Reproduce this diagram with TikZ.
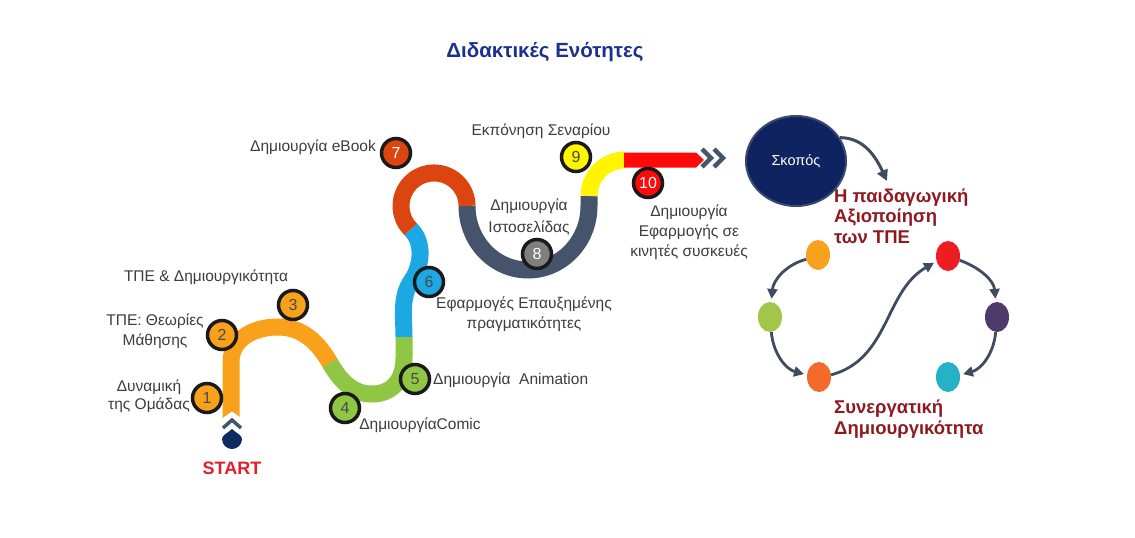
\documentclass[tikz,border=0pt]{standalone}
\usepackage{fontspec}
\setmainfont{Liberation Sans}
\usetikzlibrary{arrows.meta,shapes.geometric}
\definecolor{corange}{HTML}{F9A11B}
\definecolor{cgreen}{HTML}{8FC745}
\definecolor{cblue}{HTML}{1CA8E3}
\definecolor{crust}{HTML}{DD4510}
\definecolor{cslate}{HTML}{46546B}
\definecolor{cyellow}{HTML}{FFF500}
\definecolor{cred}{HTML}{FF0A0A}
\definecolor{cgray}{HTML}{7F7F7F}
\definecolor{cnavy}{HTML}{0E2A5E}
\definecolor{skfill}{HTML}{0F2360}
\definecolor{skborder}{HTML}{3A4A6E}
\definecolor{titleblue}{HTML}{1B3190}
\definecolor{darkred}{HTML}{8E1A20}
\definecolor{startred}{HTML}{E31E2A}
\definecolor{labelgray}{HTML}{3D3D3D}
\definecolor{numgray}{HTML}{4A4A4A}
\definecolor{markline}{HTML}{1A1A1A}
\definecolor{arrowslate}{HTML}{404B5F}
\definecolor{dA}{HTML}{F6A21D}
\definecolor{dB}{HTML}{A2C64A}
\definecolor{dC}{HTML}{F26A2C}
\definecolor{dD}{HTML}{EE1D24}
\definecolor{dE}{HTML}{4E3A6B}
\definecolor{dF}{HTML}{25B2C6}
\begin{document}
\begin{tikzpicture}[x=1pt,y=1pt,
  road/.style={line width=17pt, line cap=butt},
  marker/.style={circle, draw=markline, line width=3.5pt, minimum size=29pt, inner sep=0pt, text=numgray, font=\fontsize{16}{16}\selectfont},
  lbl/.style={text=labelgray, font=\fontsize{15.5}{20}\selectfont, align=center, inner sep=0pt},
  goaltxt/.style={text=darkred, font=\bfseries\fontsize{18.5}{20.5}\selectfont, align=left, inner sep=0pt},
  dot/.style={ellipse, minimum width=24pt, minimum height=30pt, inner sep=0pt},
  cyc/.style={draw=arrowslate, line width=2.8pt, -{Triangle[length=10pt,width=10pt]}, shorten >=3pt}
]
\useasboundingbox (0,0) rectangle (1135,-538);
\fill[white] (0,0) rectangle (1135,-538);

% title
\node[text=titleblue, font=\bfseries\fontsize{20.5}{22}\selectfont] (title) at (545,-52) {Διδακτικές Ενότητες};

% road
\draw[road, corange] (231,-419) -- (231,-362) .. controls (231,-340) and (252,-327) .. (278,-327) .. controls (302,-327) and (318,-342) .. (330,-363);
\draw[road, cgreen] (330,-363) .. controls (342,-384) and (355,-394) .. (372,-394) .. controls (392,-394) and (404,-380) .. (404,-358) -- (404,-337);
\draw[road, cblue] (404,-337) .. controls (404,-317) and (400,-297) .. (412,-280) .. controls (421,-267) and (425,-243) .. (410.7,-229.3);
\draw[road, crust] (410.7,-229.3) arc[start angle=225, end angle=0, radius=33];
\draw[road, cslate] (467,-206) arc[start angle=180, end angle=360, x radius=61, y radius=64] -- (589,-196);
\draw[road, cyellow] (589,-196) arc[start angle=180, end angle=90, radius=36];
\fill[cred] (624,-152.5) -- (696,-152.5) -- (704,-160) -- (696,-167.5) -- (624,-167.5) -- cycle;
\draw[cslate, line width=4.5pt] (702,-149) -- (711,-158) -- (702,-167);
\draw[cslate, line width=4.5pt] (714,-149) -- (723,-158) -- (714,-167);

% start marker
\fill[white] (220,-420) -- (232,-411.5) -- (244,-420) -- cycle;
\draw[cslate, line width=3.5pt] (223,-428) -- (232,-420) -- (241,-428);
\fill[cnavy] (232,-429) .. controls (236,-433) and (242,-435) .. (242,-439) arc[start angle=0, end angle=-180, radius=10] .. controls (222,-435) and (228,-433) .. (232,-429) -- cycle;
\node[text=startred, font=\bfseries\fontsize{18}{18}\selectfont] (start) at (232,-468) {START};

% markers
\node[marker, fill=corange] (m1) at (207,-398) {1};
\node[marker, fill=corange] (m2) at (222,-335) {2};
\node[marker, fill=corange] (m3) at (293,-305) {3};
\node[marker, fill=cgreen] (m4) at (345,-408) {4};
\node[marker, fill=cgreen] (m5) at (415,-379) {5};
\node[marker, fill=cblue] (m6) at (429,-282) {6};
\node[marker, fill=crust, text=white] (m7) at (396,-153) {7};
\node[marker, fill=cgray, text=white] (m8) at (537,-254) {8};
\node[marker, fill=cyellow] (m9) at (576,-157) {9};
\node[marker, fill=cred, text=white] (m10) at (648,-183) {10};

% labels
\node[lbl, font=\fontsize{15.5}{18}\selectfont] (l1) at (149,-396) {Δυναμική\\της Ομάδας};
\node[lbl] (l2) at (155,-331) {ΤΠΕ: Θεωρίες\\Μάθησης};
\node[lbl] (l3) at (206,-277) {ΤΠΕ \& Δημιουργικότητα};
\node[lbl] (l4) at (420,-425) {ΔημιουργίαComic};
\node[lbl, anchor=west] (l5) at (433,-380) {Δημιουργία~ Animation};
\node[lbl] (l6) at (524,-314) {Εφαρμογές Επαυξημένης\\πραγματικότητες};
\node[lbl] (l7) at (313,-147) {Δημιουργία eBook};
\node[lbl, font=\fontsize{15.5}{22}\selectfont] (l8) at (529,-217) {Δημιουργία\\Ιστοσελίδας};
\node[lbl] (l9) at (541,-131) {Εκπόνηση Σεναρίου};
\node[lbl] (l10) at (689,-232) {Δημιουργία\\Εφαρμογής σε\\κινητές συσκευές};

% right side
\node[ellipse, fill=skfill, draw=skborder, line width=2pt, minimum width=100pt, minimum height=90pt, text=white, font=\fontsize{14.5}{16}\selectfont] (skopos) at (796,-161) {Σκοπός};
\node[goaltxt, anchor=west] (goal) at (834,-216) {Η παιδαγωγική\\Αξιοποίηση\\των ΤΠΕ};
\coordinate (skend) at (887,-181);
\draw[arrowslate, line width=3pt, -{Triangle[length=11pt,width=11pt]}] (skopos.28) to[out=0, in=115] (skend);

\node[dot, fill=dA] (d1) at (818,-255) {};
\node[dot, fill=dB] (d2) at (770,-317) {};
\node[dot, fill=dC] (d3) at (819,-377) {};
\node[dot, fill=dD] (d4) at (948,-256) {};
\node[dot, fill=dE] (d5) at (997,-317) {};
\node[dot, fill=dF] (d6) at (948,-377) {};

\draw[cyc] (d1.200) to[out=195, in=85] (d2.85);
\draw[cyc] (d2.-85) to[out=-85, in=165] (d3.170);
\draw[cyc] (d3.10) to[out=15, in=-150] (d4.205);
\draw[cyc] (d4.-20) to[out=-20, in=95] (d5.95);
\draw[cyc] (d5.-95) to[out=-95, in=15] (d6.10);

\node[goaltxt, anchor=west] (collab) at (834,-419) {Συνεργατική\\Δημιουργικότητα};
\end{tikzpicture}
\end{document}
